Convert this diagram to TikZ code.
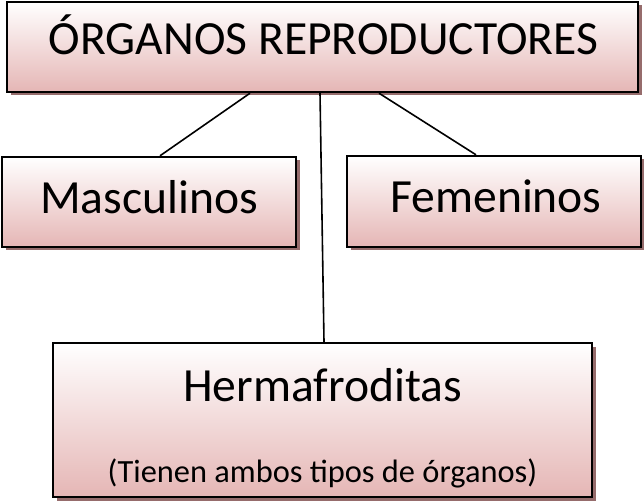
\documentclass[tikz,border=0pt]{standalone}
\usepackage{fontspec}
\setmainfont{Carlito}
\usetikzlibrary{shadows}
\definecolor{pinkc}{RGB}{229,182,181}
\definecolor{shadc}{RGB}{150,108,108}
\begin{document}
\begin{tikzpicture}[x=1pt,y=-1pt,
  box/.style={draw=black, line width=2.4pt, rectangle, top color=white, bottom color=pinkc, inner sep=0pt,
    drop shadow={shadow xshift=3.5pt, shadow yshift=-3.5pt, fill=shadc, opacity=1}},
  big/.style={font=\fontsize{47.6}{56}\selectfont, anchor=base, inner sep=0pt},
  small/.style={font=\fontsize{32.4}{38}\selectfont, anchor=base, inner sep=0pt},
  link/.style={line width=1.6pt}]
\useasboundingbox (0,0) rectangle (644,502);
\node[box, minimum width=631pt, minimum height=90pt] (top) at (322.5,47) {};
\node[box, minimum width=294pt, minimum height=90pt] (masc) at (149,202) {};
\node[box, minimum width=294pt, minimum height=91pt] (fem) at (494,201.5) {};
\node[box, minimum width=539pt, minimum height=154pt] (herm) at (322.5,420) {};
\draw[link] ([xshift=-72.5pt]top.south) -- ([xshift=11pt]masc.north);
\draw[link] ([xshift=56.5pt]top.south) -- ([xshift=-18pt]fem.north);
\draw[link] ([xshift=-2.5pt]top.south) -- ([xshift=1.5pt]herm.north);
\node[big] (ttop) at (323.5,55) {ÓRGANOS REPRODUCTORES};
\node[big] (tmasc) at (149,214) {Masculinos};
\node[big] (tfem) at (496,213) {Femeninos};
\node[big] (therm) at (322.5,401) {Hermafroditas};
\node[small] (tsub) at (322.5,482) {(Tienen ambos tipos de órganos)};
\end{tikzpicture}
\end{document}
